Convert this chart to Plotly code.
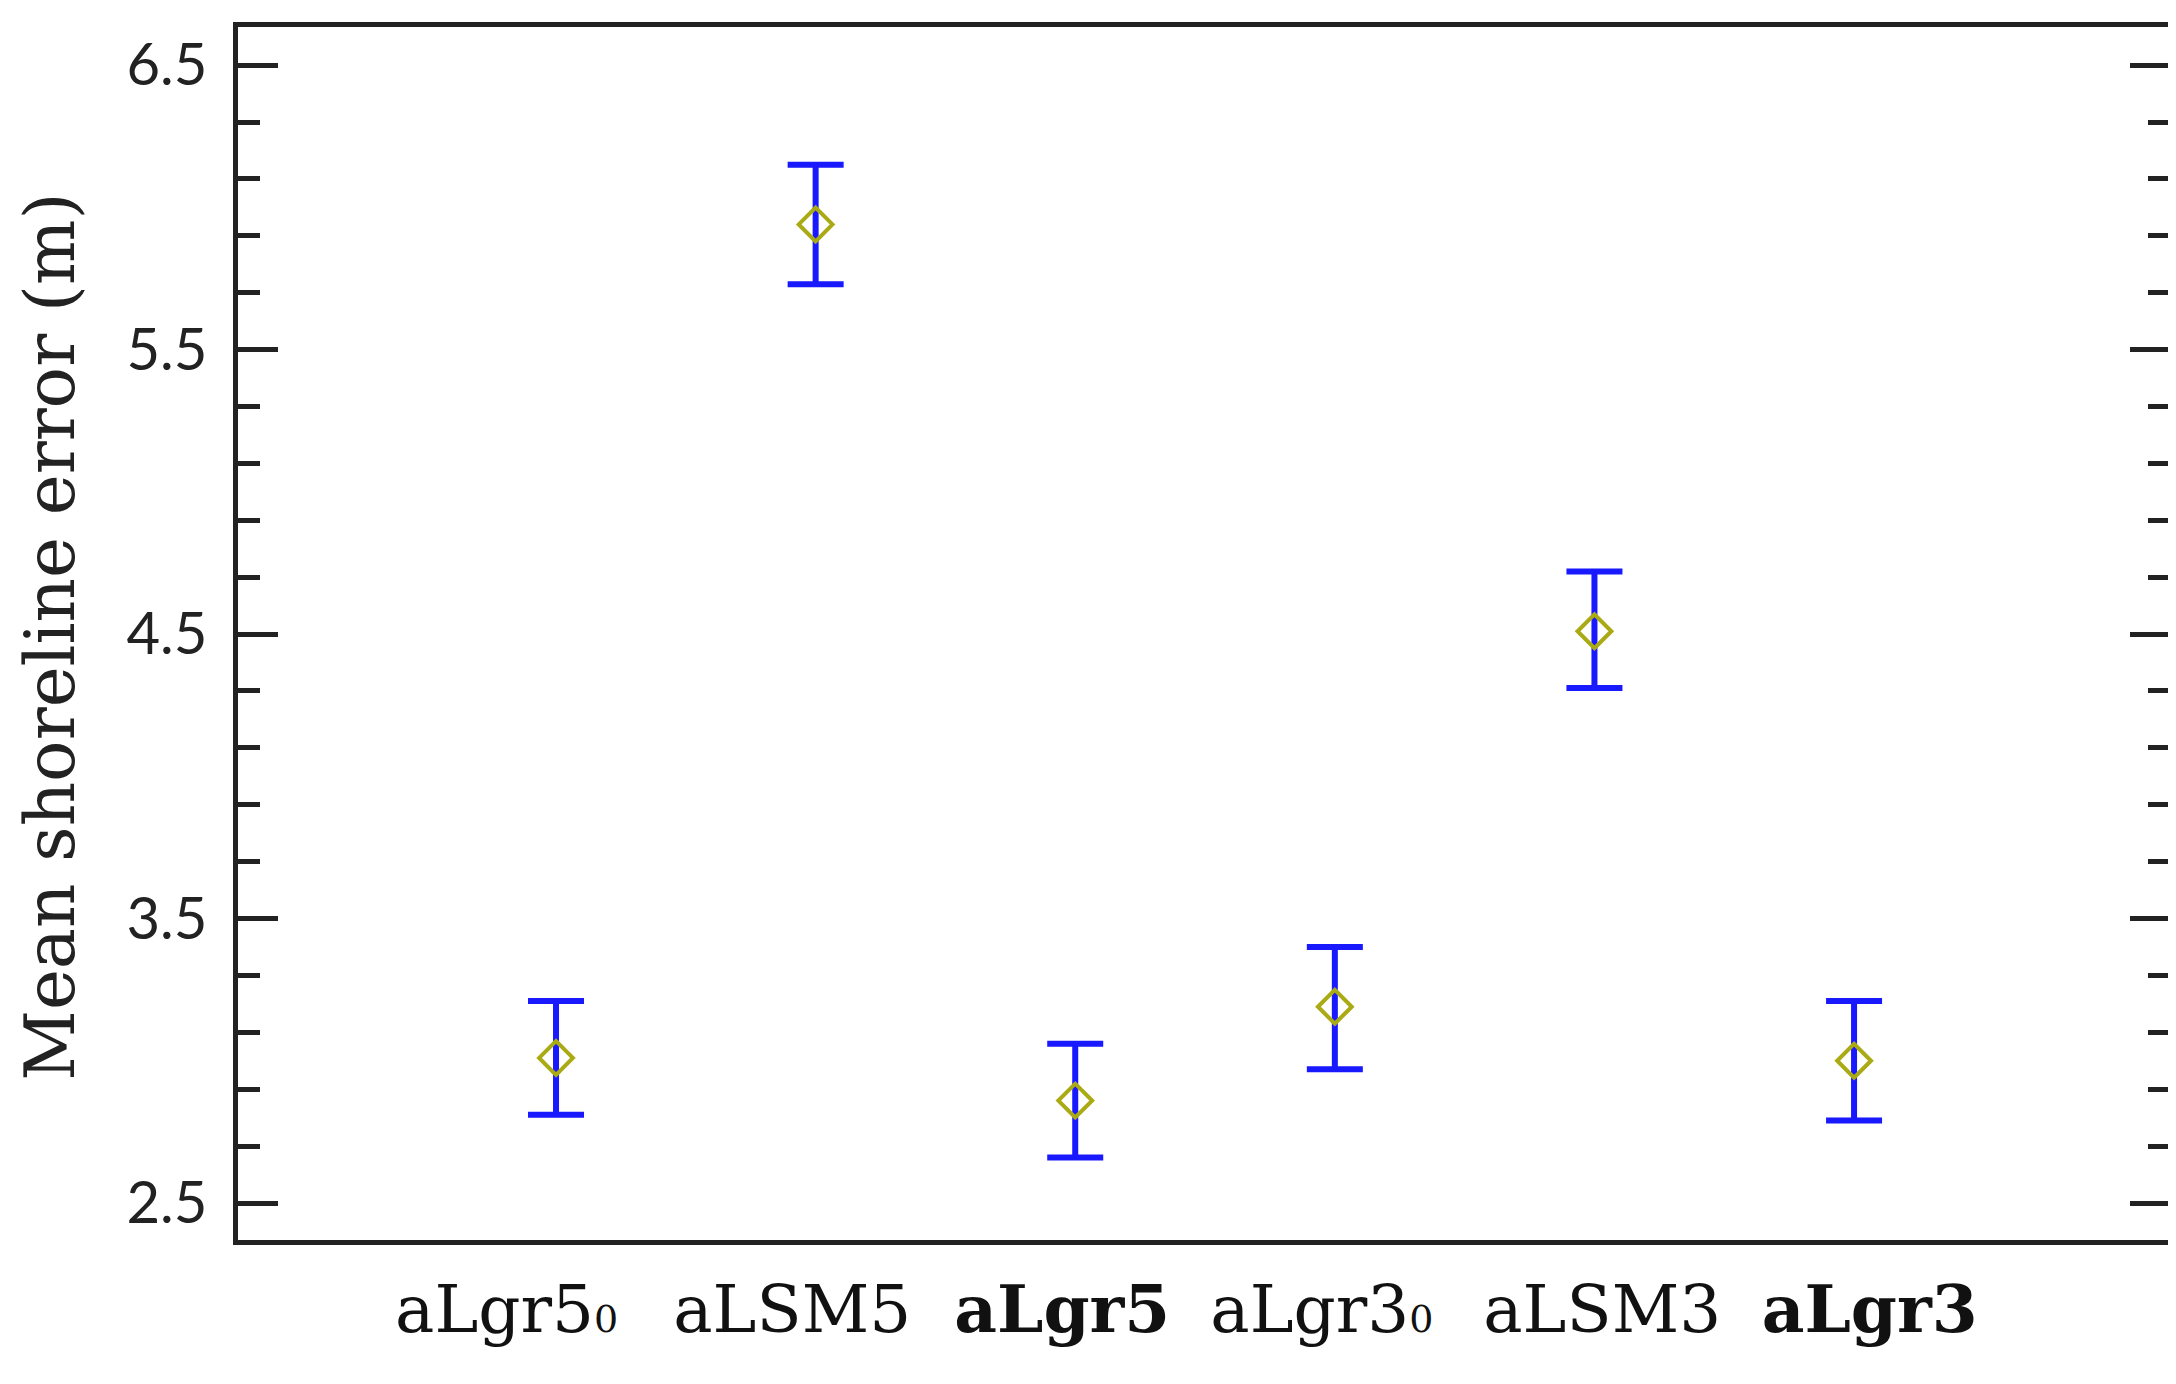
import plotly.graph_objects as go

# groups along the x axis
sub0 = "<span style='font-size:38px'>0</span>"
groups = ["aLgr5" + sub0, "aLSM5", "<b>aLgr5</b>", "aLgr3" + sub0, "aLSM3", "<b>aLgr3</b>"]
positions = [0, 1, 2, 3, 4, 5]
# the category labels in the original sit a little off their markers
label_pos = [-0.19, 0.91, 1.95, 2.95, 4.03, 5.06]

# mean shoreline error (m) and the interval half-widths
means = [3.01, 5.94, 2.86, 3.19, 4.51, 3.00]
err_plus = [0.20, 0.21, 0.20, 0.21, 0.21, 0.21]
err_minus = [0.20, 0.21, 0.20, 0.22, 0.20, 0.21]

ytick_vals = [2.5, 3.5, 4.5, 5.5, 6.5]
ytick_text = ["2.5", "3.5", "4.5", "5.5", "6.5"]

fig = go.Figure()
fig.add_trace(go.Scatter(
    x=positions, y=means, mode="markers",
    marker=dict(symbol="diamond-open", size=26, color="rgb(170,170,20)",
                line=dict(width=4, color="rgb(170,170,20)")),
    error_y=dict(type="data", symmetric=False, array=err_plus, arrayminus=err_minus,
                 color="rgb(25,25,255)", thickness=6, width=28),
    showlegend=False,
))

fig.update_layout(
    width=2176, height=1384,
    margin=dict(l=230, r=14, t=19, b=152),
    paper_bgcolor="white", plot_bgcolor="white",
    annotations=[dict(
        text="Mean shoreline error (m)", textangle=-90,
        xref="paper", yref="paper", x=-0.097, y=0.497,
        xanchor="center", yanchor="middle", showarrow=False,
        font=dict(family="DejaVu Serif", size=69, color="#222"),
    )],
)

fig.update_xaxes(
    range=[-1.225, 6.217], tickvals=label_pos, ticktext=groups,
    showline=True, linecolor="#222", linewidth=5, mirror=True,
    showgrid=False, zeroline=False, ticks="", automargin=False,
    ticklabelstandoff=8,
    tickfont=dict(family="DejaVu Serif", size=66, color="#111"),
)
fig.update_yaxes(
    range=[2.37, 6.634], tickvals=ytick_vals, ticktext=ytick_text,
    showline=True, linecolor="#222", linewidth=5, mirror="allticks",
    showgrid=False, zeroline=False, automargin=False,
    ticks="inside", ticklen=40, tickwidth=5, tickcolor="#222",
    minor=dict(ticks="inside", ticklen=22, tickwidth=5, tickcolor="#222",
               tick0=2.5, dtick=0.2, showgrid=False),
    ticklabelstandoff=14,
    tickfont=dict(family="Lato", size=58, color="#222"),
)

fig.write_html("out.html")
